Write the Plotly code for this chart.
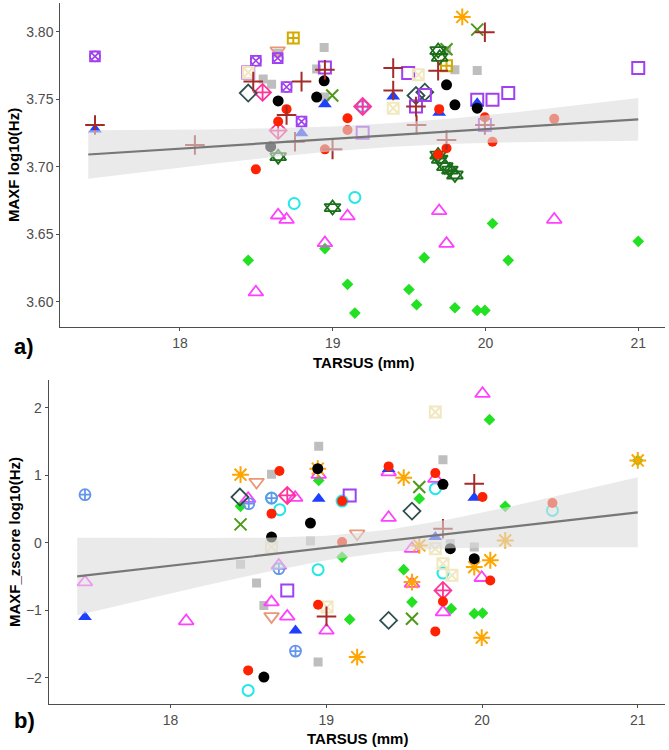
import plotly.graph_objects as go

W, H = 669, 750

# ---------------- data: panel a (MAXF log10 Hz) ----------------
gray_a_x = [18.944, 18.64, 18.895, 18.545, 18.60, 18.949, 19.745, 19.80, 19.946]
gray_a_y = [3.7883, 3.784, 3.7723, 3.765, 3.761, 3.7515, 3.786, 3.7718, 3.7713]
green_a_x = [18.949, 18.447, 19.097, 19.145, 20.046, 19.599, 20.149, 21.0, 19.499, 19.549, 19.80, 19.946, 19.996]
green_a_y = [3.6393, 3.6306, 3.6128, 3.5915, 3.6579, 3.6326, 3.6306, 3.6447, 3.609, 3.5977, 3.5955, 3.5935, 3.5935]
cyan_a_x = [18.748, 19.145]
cyan_a_y = [3.6727, 3.6772]
magenta_a_x = [18.643, 18.698, 19.097, 18.949, 18.497, 19.697, 19.745, 20.45]
magenta_a_y = [3.664, 3.6608, 3.6633, 3.6435, 3.607, 3.6672, 3.643, 3.6608]
salmontri_a_x = [18.64]
salmontri_a_y = [3.786]
cornflower_a_x = [19.196]
cornflower_a_y = [3.7445]
hotpink_a_x = [18.541, 19.196, 18.643]
hotpink_a_y = [3.755, 3.7445, 3.7267]
slate_a_x = [18.447, 19.545, 19.603]
slate_a_y = [3.7545, 3.7527, 3.7552]
olive_a_x = [18.997, 19.946, 19.745]
olive_a_y = [3.7527, 3.8015, 3.787]
purplesq_a_x = [18.447, 19.494, 21.0, 20.046, 20.149, 19.946, 19.545, 19.603, 19.196, 19.996, 18.949]
purplesq_a_y = [3.7698, 3.7693, 3.773, 3.7495, 3.7545, 3.7495, 3.7445, 3.7530, 3.7252, 3.7309, 3.7735]
purplecx_a_x = [17.444, 18.497, 18.64, 18.698, 18.796]
purplecx_a_y = [3.7817, 3.7785, 3.7804, 3.759, 3.7334]
gold_a_x = [18.742, 19.745]
gold_a_y = [3.7953, 3.7747]
cream_a_x = [19.56, 19.396, 18.447]
cream_a_y = [3.768, 3.7433, 3.7698]
dkgreen_a_x = [19.69, 19.70, 18.643, 18.999, 19.69, 19.70, 19.734, 19.767, 19.80]
dkgreen_a_y = [3.786, 3.781, 3.7074, 3.6697, 3.7086, 3.7055, 3.700, 3.6975, 3.6938]
orange_a_x = [19.848]
orange_a_y = [3.8109]
blue_a_x = [17.444, 18.949, 18.796, 19.396, 19.946, 19.697]
blue_a_y = [3.7275, 3.7463, 3.7247, 3.752, 3.747, 3.740]
red_a_x = [18.698, 18.643, 19.097, 19.097, 18.949, 18.497, 19.697, 19.996, 20.45, 19.745, 20.046, 19.69]
red_a_y = [3.7426, 3.7334, 3.7359, 3.7272, 3.7128, 3.698, 3.7426, 3.7366, 3.7354, 3.7136, 3.7185, 3.709]
black_a_x = [18.944, 18.643, 18.895, 18.594, 19.745, 19.80, 19.946]
black_a_y = [3.7636, 3.7487, 3.7515, 3.7148, 3.7606, 3.7458, 3.7433]
darkred_a_x = [17.444, 18.098, 18.949, 18.48, 18.796, 18.698, 18.753, 18.999, 19.996, 19.396, 19.69, 19.396, 19.545, 19.549, 19.745, 19.996]
darkred_a_y = [3.7309, 3.716, 3.7718, 3.763, 3.763, 3.7383, 3.7185, 3.7128, 3.7995, 3.773, 3.771, 3.7564, 3.7445, 3.7309, 3.7198, 3.7309]

# ---------------- data: panel b (MAXF z-score) ----------------
gray_b_x = [18.648, 18.951, 18.898, 18.449, 18.552, 18.599, 18.947, 19.749, 19.796, 19.95]
gray_b_y = [1.012, 1.427, 0.024, -0.321, -0.598, -0.929, -1.769, 1.229, -0.015, -0.065]
green_b_x = [18.951, 18.449, 19.101, 19.15, 20.048, 19.597, 20.149, 19.497, 19.55, 19.802, 19.95, 20.003, 21.0]
green_b_y = [0.923, 0.538, -0.213, -1.136, 1.822, 0.652, 0.538, -0.40, -0.88, -0.978, -1.052, -1.043, 1.219]
cyan_b_x = [18.648, 18.701, 19.101, 18.947, 18.498, 19.70, 20.452, 19.749]
cyan_b_y = [0.661, 0.489, 0.616, -0.40, -2.188, 0.80, 0.478, -0.45]
magenta_b_x = [18.951, 18.498, 18.80, 17.45, 18.10, 18.695, 18.648, 18.749, 19.001, 20.003, 19.40, 19.70, 19.40, 19.55, 19.998, 19.55, 19.749]
magenta_b_y = [1.007, 0.652, 0.667, -0.584, -1.161, -0.336, -0.88, -1.092, -1.30, 2.207, 1.046, 0.948, 0.37, -0.089, -0.519, -0.607, -1.028]
salmontri_b_x = [18.552, 19.198, 18.648]
salmontri_b_y = [0.898, 0.133, -1.092]
cornflower_b_x = [17.45, 18.502, 18.648, 18.695, 18.802]
cornflower_b_y = [0.711, 0.578, 0.661, -0.385, -1.606]
hotpink_b_x = [18.749, 19.749]
hotpink_b_y = [0.70, -0.707]
slate_b_x = [18.445, 19.55, 19.40]
slate_b_y = [0.676, 0.468, -1.151]
olive_b_x = [18.449, 19.597, 19.55]
olive_b_y = [0.271, 0.824, -1.126]
purplesq_b_x = [19.15, 18.749]
purplesq_b_y = [0.70, -0.707]
purplecx_b_x = []
purplecx_b_y = []
gold_b_x = []
gold_b_y = []
cream_b_x = [19.70, 18.648, 19.005, 19.70, 19.749, 19.807]
cream_b_y = [1.935, -0.065, -0.954, -0.089, -0.311, -0.484]
dkgreen_b_x = []
dkgreen_b_y = []
orange_b_x = [18.449, 18.945, 21.0, 19.497, 20.149, 19.597, 20.053, 19.95, 19.55, 19.998, 19.198]
orange_b_y = [1.007, 1.096, 1.219, 0.963, 0.034, -0.04, -0.26, -0.361, -0.584, -1.407, -1.695]
blue_b_x = [18.951, 17.45, 18.802, 19.40, 19.95, 19.70]
blue_b_y = [0.652, -1.102, -1.30, 1.09, 0.667, 0.083]
red_b_x = [18.699, 19.101, 18.648, 19.101, 18.947, 18.498, 19.40, 19.70, 20.003, 20.452, 20.053, 19.749, 19.70]
red_b_y = [1.061, 0.616, 0.43, 0.009, -0.919, -1.892, 1.13, 1.031, 0.676, 0.587, -0.559, -0.87, -1.314]
black_b_x = [18.945, 18.898, 18.648, 18.599, 19.749, 19.796, 19.95]
black_b_y = [1.096, 0.29, 0.083, -1.99, 0.864, -0.089, -0.237]
darkred_b_x = [19.001, 19.95, 19.749]
darkred_b_y = [-1.092, 0.874, 0.207]

# ---------------- regression fit + confidence band ----------------
fit_x = [17.4, 17.8, 18.2, 18.6, 19.0, 19.4, 19.8, 20.2, 20.6, 21.0]
fit_a = [3.7090, 3.7119, 3.7148, 3.7177, 3.7206, 3.7235, 3.7264, 3.7292, 3.7321, 3.7350]
half_a = [0.0180, 0.0153, 0.0128, 0.0107, 0.0092, 0.0088, 0.0095, 0.0111, 0.0134, 0.0159]
fit_b = [-0.500, -0.394, -0.289, -0.183, -0.078, 0.028, 0.134, 0.239, 0.345, 0.450]
half_b = [0.574, 0.463, 0.357, 0.258, 0.182, 0.163, 0.216, 0.306, 0.410, 0.518]

# ---------------- marker styles (one or more symbols overlaid per group) ----------------
groups = [
    ("gray", ["square"], "#bebebe", 9, 0),
    ("green", ["diamond"], "#22e022", 9, 0),
    ("cyan", ["circle-open"], "#22e8e8", 11, 2),
    ("magenta", ["triangle-up-open"], "#ff40ff", 13, 1.8),
    ("salmontri", ["triangle-down-open"], "#e9967a", 13, 1.8),
    ("cornflower", ["circle-cross-open"], "#6495ed", 11, 1.8),
    ("hotpink", ["diamond-cross-open"], "#ff3399", 13, 1.8),
    ("slate", ["diamond-open"], "#2f4f4f", 13, 1.8),
    ("olive", ["x-thin-open"], "#4d9a1a", 12, 2),
    ("purplesq", ["square-open"], "#a040f0", 12, 2),
    ("purplecx", ["square-open", "circle-x-open"], "#a040f0", 10, 1.6),
    ("gold", ["square-cross-open"], "#d4aa00", 11, 2),
    ("cream", ["square-x-open"], "#f2e8c0", 11, 2),
    ("dkgreen", ["triangle-up-open", "triangle-down-open"], "#1a6e1a", 14, 1.8),
    ("orange", ["asterisk-open"], "#ffa500", 14, 2),
    ("blue", ["triangle-up"], "#1f3fff", 12, 0),
    ("red", ["circle"], "#ff2200", 10, 0),
    ("black", ["circle"], "#000000", 11, 0),
    ("darkred", ["cross-thin-open"], "#a52a2a", 14, 2),
]

G = globals()
fig = go.Figure()

for panel, xa, ya in [("a", "x", "y"), ("b", "x2", "y2")]:
    for name, syms, col, size, lw in groups:
        xs = G[f"{name}_{panel}_x"]
        ys = G[f"{name}_{panel}_y"]
        if not xs:
            continue
        for sym in syms:
            fig.add_trace(go.Scatter(
                x=xs, y=ys, mode="markers", xaxis=xa, yaxis=ya, showlegend=False,
                marker=dict(symbol=sym, color=col, size=size,
                            line=dict(color=col, width=lw)),
                hoverinfo="skip"))
    fit = G[f"fit_{panel}"]
    half = G[f"half_{panel}"]
    lo = [f - h for f, h in zip(fit, half)]
    hi = [f + h for f, h in zip(fit, half)]
    fig.add_trace(go.Scatter(
        x=fit_x + fit_x[::-1], y=lo + hi[::-1], mode="lines", fill="toself",
        fillcolor="rgba(220,220,220,0.6)", line=dict(width=0),
        xaxis=xa, yaxis=ya, showlegend=False, hoverinfo="skip"))
    fig.add_trace(go.Scatter(
        x=fit_x, y=fit, mode="lines", line=dict(color="#777777", width=2.2),
        xaxis=xa, yaxis=ya, showlegend=False, hoverinfo="skip"))

axis_common = dict(showgrid=False, zeroline=False, showline=True, linecolor="#4d4d4d",
                   linewidth=1.1, ticks="outside", ticklen=3, tickcolor="#4d4d4d",
                   tickfont=dict(family="Arial, Liberation Sans", size=14, color="#4d4d4d"))

def px(v):
    return v / W

def py(v):
    return 1 - v / H

fig.update_layout(
    width=W, height=H, margin=dict(l=0, r=0, t=0, b=0),
    paper_bgcolor="white", plot_bgcolor="white",
    xaxis=dict(domain=[px(60.3), px(665)], range=[17.217, 21.175], anchor="y",
               tickvals=[18, 19, 20, 21], **axis_common),
    yaxis=dict(domain=[py(327.3), py(3.3)], range=[3.581, 3.821], anchor="x",
               tickvals=[3.60, 3.65, 3.70, 3.75, 3.80],
               ticktext=["3.60", "3.65", "3.70", "3.75", "3.80"], **axis_common),
    xaxis2=dict(domain=[px(48.7), px(665)], range=[17.217, 21.175], anchor="y2",
                tickvals=[18, 19, 20, 21], **axis_common),
    yaxis2=dict(domain=[py(704.3), py(380)], range=[-2.394, 2.41], anchor="x2",
                tickvals=[-2, -1, 0, 1, 2], **axis_common),
)

title_font = dict(family="Arial, Liberation Sans", size=15, color="black")
ann = [
    dict(text="<b>MAXF log10(Hz)</b>", x=px(14), y=py(165), textangle=-90, font=title_font),
    dict(text="<b>TARSUS (mm)</b>", x=px(363), y=py(362), font=title_font),
    dict(text="<b>a)</b>", x=px(24), y=py(346), font=dict(family="Arial, Liberation Sans", size=22, color="black")),
    dict(text="<b>MAXF_zscore log10(Hz)</b>", x=px(14), y=py(542), textangle=-90, font=title_font),
    dict(text="<b>TARSUS (mm)</b>", x=px(357), y=py(738), font=title_font),
    dict(text="<b>b)</b>", x=px(24), y=py(720), font=dict(family="Arial, Liberation Sans", size=22, color="black")),
]
for a in ann:
    a.update(xref="paper", yref="paper", showarrow=False, xanchor="center", yanchor="middle")
fig.update_layout(annotations=ann)

fig.write_html("out.html")
